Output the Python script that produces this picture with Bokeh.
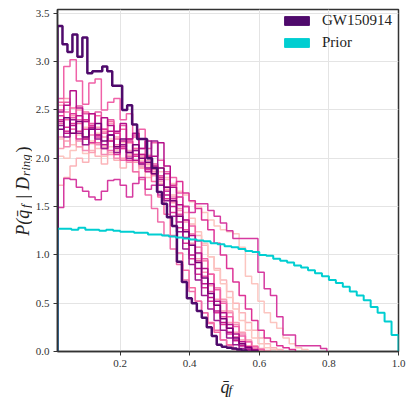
import numpy as np
from math import pi
from bokeh.plotting import figure
from bokeh.layouts import row, column
from bokeh.core.properties import value
from bokeh.models import Legend, LegendItem, FixedTicker, Range1d, PrintfTickFormatter
from bokeh.embed import file_html
from bokeh.resources import INLINE

# ---------------- data ----------------
X_START = 0.02
GW_BIN = 0.0143
RUN_BIN = 0.018
PRIOR_BIN = 0.02

gw150914 = [3.37, 3.18, 3.10, 3.28, 3.05, 3.25, 2.88, 2.90, 2.90, 2.95, 2.90, 2.75, 2.75,
            2.50, 2.55, 2.35, 2.20, 2.20, 2.00, 1.90, 1.65, 1.53, 1.39, 1.30, 0.93, 0.72,
            0.55, 0.50, 0.42, 0.35, 0.25, 0.16, 0.07, 0.05, 0.04, 0.03, 0.02, 0.01]

prior = [1.27, 1.27, 1.26, 1.28, 1.26, 1.26, 1.25, 1.26, 1.25, 1.24, 1.24, 1.23, 1.23,
         1.21, 1.21, 1.20, 1.19, 1.18, 1.17, 1.16, 1.15, 1.14, 1.12, 1.11, 1.09, 1.08,
         1.06, 1.04, 1.03, 1.00, 0.99, 0.96, 0.94, 0.92, 0.89, 0.87, 0.84, 0.81, 0.78,
         0.74, 0.71, 0.67, 0.62, 0.58, 0.53, 0.46, 0.40, 0.31, 0.17]

run_a = [2.62, 2.95, 3.02, 2.80, 2.56, 2.78, 2.82, 2.50, 2.58, 2.62, 2.40, 2.46, 2.22, 2.30,
         2.10, 2.16, 1.98, 1.86, 1.80, 1.64, 1.50, 1.30, 1.14, 0.96, 0.80, 0.64, 0.50, 0.36,
         0.26, 0.16, 0.10, 0.05, 0.02]
run_b = [1.49, 1.79, 1.78, 1.70, 1.66, 1.60, 1.57, 1.66, 1.77, 1.78, 1.72, 1.60, 1.74, 1.80,
         1.68, 1.72, 1.62, 1.66, 1.58, 1.60, 1.50, 1.44, 1.53, 1.53, 1.46, 1.40, 1.33, 1.25,
         1.17, 1.17, 1.17, 1.17, 0.82, 0.65, 0.58, 0.36, 0.17, 0.17, 0.06, 0.06, 0.06, 0.06, 0.03]
run_c = [2.48, 2.55, 2.70, 2.52, 2.38, 2.46, 2.30, 2.42, 2.34, 2.28, 2.36, 2.20, 2.26, 2.10,
         2.18, 2.02, 2.16, 1.92, 1.70, 1.52, 1.36, 1.20, 1.02, 0.86, 0.70, 0.52, 0.40, 0.28,
         0.18, 0.10, 0.05, 0.02]
run_d = [2.30, 2.42, 2.26, 2.38, 2.22, 2.30, 2.36, 2.18, 2.24, 2.12, 2.20, 2.06, 2.14, 2.00,
         1.96, 1.84, 1.90, 1.70, 1.56, 1.40, 1.24, 1.10, 0.92, 0.76, 0.60, 0.48, 0.34, 0.24,
         0.14, 0.08, 0.04, 0.01]
run_e = [2.02, 2.00, 2.08, 2.12, 2.05, 2.15, 2.10, 2.02, 2.12, 2.06, 1.98, 2.04, 1.96, 2.00,
         1.92, 1.86, 1.90, 1.80, 1.74, 1.66, 1.62, 1.55, 1.50, 1.44, 1.36, 1.30, 1.26, 1.24,
         1.22, 1.08, 0.78, 0.70, 0.52, 0.40, 0.30, 0.24, 0.14, 0.08, 0.04, 0.02]
run_f = [1.72, 1.80, 1.92, 2.00, 1.96, 2.08, 2.02, 1.94, 2.06, 1.98, 1.90, 1.96, 1.86, 1.90,
         1.80, 1.84, 1.74, 1.70, 1.62, 1.52, 1.44, 1.32, 1.20, 1.10, 0.98, 0.86, 0.74, 0.62,
         0.50, 0.40, 0.30, 0.22, 0.14, 0.08, 0.04, 0.02]
run_g = [2.58, 2.40, 2.52, 2.36, 2.48, 2.30, 2.44, 2.26, 2.38, 2.20, 2.30, 2.16, 2.10, 2.04,
         1.90, 1.76, 1.60, 1.42, 1.20, 1.02, 0.84, 0.66, 0.52, 0.40, 0.30, 0.20, 0.12, 0.07,
         0.03, 0.01]
run_h = [2.55, 2.62, 2.44, 2.50, 2.38, 2.46, 2.32, 2.28, 2.36, 2.22, 2.14, 2.20, 2.08, 2.02,
         1.94, 1.88, 1.80, 1.68, 1.54, 1.40, 1.26, 1.12, 0.96, 0.82, 0.68, 0.54, 0.42, 0.30,
         0.20, 0.12, 0.06, 0.03, 0.01]
run_i = [2.44, 2.32, 2.46, 2.28, 2.40, 2.34, 2.22, 2.30, 2.18, 2.26, 2.12, 2.18, 2.04, 1.96,
         2.02, 1.84, 1.72, 1.58, 1.44, 1.28, 1.12, 0.96, 0.80, 0.66, 0.52, 0.40, 0.28, 0.18,
         0.11, 0.06, 0.02]
run_j = [2.38, 2.26, 2.34, 2.44, 2.20, 2.32, 2.24, 2.14, 2.28, 2.10, 2.18, 2.06, 1.98, 2.04,
         1.86, 1.92, 1.78, 1.62, 1.50, 1.34, 1.18, 1.00, 0.86, 0.70, 0.56, 0.42, 0.30, 0.20,
         0.12, 0.06, 0.02]
run_k = [2.36, 2.48, 2.30, 2.40, 2.22, 2.34, 2.16, 2.26, 2.08, 2.14, 1.98, 2.02, 1.86, 1.78,
         1.62, 1.48, 1.34, 1.20, 1.06, 0.90, 0.74, 0.62, 0.52, 0.40, 0.29, 0.22, 0.12, 0.06, 0.02]
run_l = [2.20, 2.28, 2.14, 2.24, 2.32, 2.18, 2.26, 2.12, 2.20, 2.08, 2.16, 2.02, 2.10, 1.98,
         2.04, 1.92, 1.86, 1.78, 1.70, 1.60, 1.50, 1.38, 1.24, 1.12, 0.98, 0.84, 0.70, 0.56,
         0.44, 0.32, 0.22, 0.14, 0.08, 0.04, 0.02]
run_m = [2.10, 2.18, 2.26, 2.12, 2.20, 2.06, 2.16, 2.22, 2.04, 2.12, 2.00, 2.08, 1.96, 1.90,
         1.94, 1.82, 1.76, 1.66, 1.56, 1.46, 1.34, 1.22, 1.08, 0.94, 0.80, 0.66, 0.54, 0.42,
         0.30, 0.20, 0.12, 0.06, 0.03, 0.01]
run_n = [2.50, 2.58, 2.42, 2.54, 2.46, 2.36, 2.48, 2.30, 2.40, 2.26, 2.34, 2.20, 2.24, 2.10,
         2.02, 1.94, 1.82, 1.70, 1.56, 1.42, 1.26, 1.10, 0.94, 0.78, 0.62, 0.48, 0.36, 0.24,
         0.15, 0.08, 0.04, 0.01]
run_o = [2.34, 2.22, 2.40, 2.26, 2.14, 2.30, 2.20, 2.10, 2.24, 2.06, 2.14, 2.00, 2.08, 1.94,
         1.90, 2.18, 1.72, 1.56, 1.40, 1.24, 1.06, 0.90, 0.74, 0.58, 0.44, 0.32, 0.22, 0.14,
         0.07, 0.03, 0.01]
run_p = [2.22, 2.12, 2.30, 2.18, 2.08, 2.24, 2.14, 2.04, 2.18, 2.00, 2.10, 1.96, 2.04, 1.92,
         1.98, 1.86, 1.80, 1.70, 1.60, 1.48, 1.36, 1.22, 1.08, 0.94, 0.80, 0.66, 0.52, 0.40,
         0.28, 0.18, 0.10, 0.05, 0.02]
run_q = [2.40, 2.28, 2.36, 2.20, 2.30, 2.16, 2.24, 2.10, 2.18, 2.04, 2.10, 1.98, 2.02, 1.94,
         1.88, 1.90, 1.80, 1.84, 1.72, 1.76, 1.64, 1.56, 1.48, 1.36, 1.26, 1.12, 1.00, 0.86,
         0.72, 0.58, 0.44, 0.32, 0.22, 0.14, 0.10, 0.06, 0.04, 0.02]

runs = [run_e, run_f, run_l, run_m, run_p, run_h, run_g, run_k, run_n, run_i, run_a,
        run_b, run_q, run_j, run_c, run_o, run_d]
run_colors = ["#fcc5c0", "#fbb4b9", "#fcc5c0", "#fa9fb5", "#f48cb5", "#fa9fb5", "#f768a1",
              "#f06eaa", "#e85aa5", "#dd3497", "#f062a8", "#d63aa0", "#dd3497", "#c0178a",
              "#b5108a", "#9c1a8e", "#7a0177"]

gw_color = "#4f0a6c"
prior_color = "#00ced1"
x_ticks = [0.2, 0.4, 0.6, 0.8, 1.0]
y_ticks = [0.0, 0.5, 1.0, 1.5, 2.0, 2.5, 3.0, 3.5]


def step_outline(values, width, start):
    edges = start + width * np.arange(len(values) + 1)
    xs, ys = [edges[0]], [0.0]
    for i, v in enumerate(values):
        xs += [edges[i], edges[i + 1]]
        ys += [v, v]
    xs.append(edges[-1])
    ys.append(0.0)
    return xs, ys


SERIF = "Liberation Serif"
TXT = "#222222"

# ---------------- main plot ----------------
p = figure(width=383, height=373, x_range=Range1d(0.02, 1.0), y_range=Range1d(0, 3.54),
           output_backend="svg", toolbar_location=None,
           min_border_left=23, min_border_right=17, min_border_top=9, min_border_bottom=22)
p.outline_line_color = "#333333"
p.outline_line_width = 1.5
p.background_fill_color = "white"

for ax, ticks in ((p.xaxis, x_ticks), (p.yaxis, y_ticks)):
    ax.ticker = FixedTicker(ticks=ticks)
    ax.formatter = PrintfTickFormatter(format="%.1f")
    ax.major_tick_out = 4
    ax.major_tick_in = 0
    ax.minor_tick_out = 0
    ax.minor_tick_in = 0
    ax.axis_line_color = "#333333"
    ax.axis_line_width = 1.5
    ax.major_tick_line_color = "#333333"
    ax.major_label_text_font = SERIF
    ax.major_label_text_font_size = "11px"
    ax.major_label_text_color = "#333333"
    ax.major_label_standoff = 4

p.grid.grid_line_color = "#e4e4e4"
p.grid.grid_line_width = 1

for vals, col in zip(runs, run_colors):
    xs, ys = step_outline(vals, RUN_BIN, X_START)
    p.line(xs, ys, line_color=col, line_width=1.5)

xs, ys = step_outline(gw150914, GW_BIN, X_START)
p.line(xs, ys, line_color=gw_color, line_width=2.5)

xs, ys = step_outline(prior, PRIOR_BIN, X_START)
p.line(xs, ys, line_color=prior_color, line_width=2)

# legend patches (glyphs that draw nothing in the plot, only in the legend)
gw_patch = p.quad(left=[np.nan], right=[np.nan], bottom=[np.nan], top=[np.nan],
                  fill_color=gw_color, line_color=gw_color)
prior_patch = p.quad(left=[np.nan], right=[np.nan], bottom=[np.nan], top=[np.nan],
                     fill_color=prior_color, line_color=prior_color)
legend = Legend(items=[LegendItem(label="GW150914", renderers=[gw_patch]),
                       LegendItem(label="Prior", renderers=[prior_patch])],
                location="top_right")
legend.glyph_width = 31
legend.glyph_height = 11
legend.label_height = 18
legend.label_width = 74
legend.label_standoff = 10
legend.spacing = 4
legend.padding = 2
legend.margin = 0
legend.border_line_alpha = 0
legend.background_fill_alpha = 0
legend.label_text_font = SERIF
legend.label_text_font_size = "15px"
legend.label_text_color = TXT
legend.label_text_baseline = "middle"
p.add_layout(legend)


def bare_fig(w, h, xr, yr):
    # a text-only panel; its ranges are expressed in the panel's own pixels
    f = figure(width=w, height=h, x_range=Range1d(0, xr), y_range=Range1d(0, yr),
               output_backend="svg", toolbar_location=None,
               x_axis_location=None, y_axis_location=None,
               min_border_left=0, min_border_right=0, min_border_top=0, min_border_bottom=0)
    f.outline_line_color = None
    f.grid.visible = False
    return f


def lab(f, text, x, y, size, angle=0.0, style="italic"):
    f.text(x=[x], y=[y], text=[text], angle=angle,
           text_font=value(SERIF), text_font_size=size, text_font_style=style,
           text_color=TXT, text_align="left", text_baseline="alphabetic")


# y axis label: P(q̄_f | D_ring)   (frame of this panel spans 0..373 px vertically)
ylab = bare_fig(32, 399, 32, 373)
lab(ylab, "P(q\u0304", 22, 153, "18px", pi / 2)
lab(ylab, "f", 25, 179, "13px", pi / 2)
lab(ylab, "| D", 22, 187, "18px", pi / 2)
lab(ylab, "ring", 25, 209, "13px", pi / 2)
lab(ylab, ")", 22, 231, "18px", pi / 2, "normal")

# x axis label: q̄_f   (frame of this panel is aligned with the main frame, 343 px wide)
xlab = bare_fig(383, 26, 343, 26)
lab(xlab, "q\u0304", 164, 13, "18px")
lab(xlab, "f", 172, 10, "13px")

layout = row(ylab, column(p, xlab, spacing=0), spacing=0)
open("out.html", "w").write(file_html(layout, INLINE))
